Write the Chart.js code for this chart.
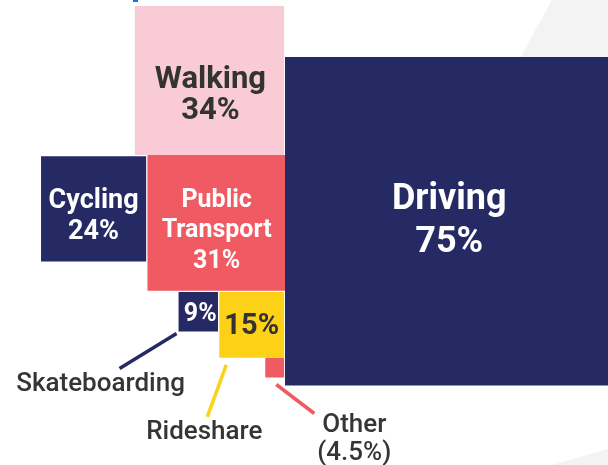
<!DOCTYPE html>
<html><head><meta charset="utf-8">
<script src="https://cdn.jsdelivr.net/npm/chart.js@4.4.1/dist/chart.umd.min.js"></script>
<style>html,body{margin:0;padding:0;background:#fff;overflow:hidden}canvas{display:block}</style>
</head><body>
<canvas id="c" width="608" height="465"></canvas>
<script>
// ---- data ----
const categories = ['Driving', 'Walking', 'Public Transport', 'Cycling', 'Rideshare', 'Skateboarding', 'Other'];
const values = [75, 34, 31, 24, 15, 9, 4.5];
const valueLabels = ['75%', '34%', '31%', '24%', '15%', '9%', '(4.5%)'];

// ---- styles ----
const NAVY = '#262a64', PINK = '#f9cbd6', RED = '#ef5a63', YELLOW = '#fdd117', DARK = '#333333';
const colors = [NAVY, PINK, RED, NAVY, YELLOW, NAVY, RED];

// ---- layout (square side = value, in % units) ----
const PX = 4.38;
const val = {};
categories.forEach((c, i) => val[c] = values[i]);
const GAP = 0.3;
const DRIVING_TOP = -22.4;
const boxes = {};
boxes['Driving'] = {x0: 0, x1: val['Driving'], y0: DRIVING_TOP, y1: DRIVING_TOP + val['Driving']};
boxes['Walking'] = {x0: -val['Walking'] - 0.3, x1: -0.2, y0: -val['Walking'], y1: 0};
boxes['Public Transport'] = {x0: -val['Public Transport'] - 0.4, x1: 0.2, y0: 0, y1: val['Public Transport']};
boxes['Cycling'] = {x0: -val['Public Transport'] - 0.4 - GAP - val['Cycling'], x1: -val['Public Transport'] - 0.4 - GAP, y0: GAP, y1: GAP + val['Cycling']};
const rsTop = val['Public Transport'] + GAP;
boxes['Rideshare'] = {x0: -val['Rideshare'], x1: -0.2, y0: rsTop, y1: rsTop + val['Rideshare']};
boxes['Skateboarding'] = {x0: -val['Rideshare'] - GAP - val['Skateboarding'], x1: -val['Rideshare'] - GAP, y0: rsTop, y1: rsTop + val['Skateboarding']};
boxes['Other'] = {x0: -val['Other'], x1: -0.2, y0: boxes['Rideshare'].y1, y1: boxes['Rideshare'].y1 + val['Other']};

const datasets = categories.map((c, i) => {
  const b = boxes[c];
  return {
    label: c,
    data: [{x: b.x0, y: b.y0}, {x: b.x1, y: b.y0}, {x: b.x1, y: b.y1}, {x: b.x0, y: b.y1}, {x: b.x0, y: b.y0}],
    showLine: true,
    fill: 'shape',
    backgroundColor: colors[i],
    borderColor: 'rgba(0,0,0,0)',
    borderWidth: 0,
    pointRadius: 0,
    pointHoverRadius: 0,
    tension: 0
  };
});

// inside label styles
const inside = {
  'Driving':          {size: 36, color: '#ffffff', gap: 43, dy: -3, dx: 0},
  'Walking':          {size: 31, color: DARK, gap: 31.5, dy: 12, dx: 1},
  'Public Transport': {size: 25, color: '#ffffff', gap: 30.5, dy: 5.5, dx: 0, split: true},
  'Cycling':          {size: 27, color: '#ffffff', gap: 31, dy: 5.5, dx: 0},
  'Rideshare':        {size: 29, color: DARK, gap: 0, dy: -1, dx: 0, valueOnly: true},
  'Skateboarding':    {size: 25, color: '#ffffff', gap: 0, dy: 0, dx: 2, valueOnly: true}
};
// external callouts (pixel offsets from box bottom-left)
const callouts = {
  'Skateboarding': {from: [-2, 2], to: [-59, 37], text: [[-78, 59]], color: NAVY},
  'Rideshare':     {from: [7, 7], to: [-12, 59], text: [[-15, 81]], color: YELLOW},
  'Other':         {from: [11, 7], to: [49, 36], text: [[89, 54], [89, 82]], color: RED}
};

const deco = {
  id: 'deco',
  beforeDraw(chart) {
    const ctx = chart.ctx;
    ctx.save();
    ctx.fillStyle = '#f3f3f3';
    ctx.beginPath();
    ctx.moveTo(552, 0); ctx.lineTo(608, 0); ctx.lineTo(608, 120); ctx.lineTo(486, 120); ctx.closePath();
    ctx.fill();
    ctx.beginPath();
    ctx.moveTo(608, 449); ctx.lineTo(608, 465); ctx.lineTo(552, 465); ctx.closePath();
    ctx.fill();
    ctx.fillStyle = '#1a73d9';
    ctx.fillRect(133, 0, 5, 2);
    ctx.restore();
  }
};

const labels = {
  id: 'labels',
  afterDatasetsDraw(chart) {
    const ctx = chart.ctx, xs = chart.scales.x, ys = chart.scales.y;
    ctx.save();
    ctx.textAlign = 'center';
    categories.forEach((c, i) => {
      const b = boxes[c];
      const px0 = xs.getPixelForValue(b.x0), px1 = xs.getPixelForValue(b.x1);
      const py0 = ys.getPixelForValue(b.y0), py1 = ys.getPixelForValue(b.y1);
      const s = inside[c];
      if (s) {
        let lines = s.valueOnly ? [valueLabels[i]] : (s.split ? c.split(' ') : [c]).concat([valueLabels[i]]);
        const cx = (px0 + px1) / 2 + s.dx, cy = (py0 + py1) / 2 + s.dy;
        ctx.font = 'bold ' + s.size + 'px Roboto, "Liberation Sans", sans-serif';
        ctx.fillStyle = s.color;
        ctx.textBaseline = 'alphabetic';
        const n = lines.length;
        lines.forEach((t, k) => {
          const lc = cy + (k - (n - 1) / 2) * s.gap;
          ctx.fillText(t, cx, lc + s.size * 0.355);
        });
      }
      const co = callouts[c];
      if (co) {
        const bx = Math.min(px0, px1), by = Math.max(py0, py1);
        ctx.strokeStyle = co.color;
        ctx.lineWidth = 3.5;
        ctx.lineCap = 'butt';
        ctx.beginPath();
        ctx.moveTo(bx + co.from[0], by + co.from[1]);
        ctx.lineTo(bx + co.to[0], by + co.to[1]);
        ctx.stroke();
        ctx.font = '500 26px Roboto, "Liberation Sans", sans-serif';
        ctx.fillStyle = '#353535';
        ctx.textBaseline = 'alphabetic';
        const texts = co.text.length > 1 ? [c, valueLabels[i]] : [c];
        texts.forEach((t, k) => ctx.fillText(t, bx + co.text[k][0], by + co.text[k][1]));
      }
    });
    ctx.restore();
  }
};

new Chart(document.getElementById('c'), {
  type: 'scatter',
  data: {datasets},
  options: {
    responsive: false,
    animation: false,
    devicePixelRatio: 1,
    layout: {padding: 0},
    plugins: {legend: {display: false}, tooltip: {enabled: false}},
    scales: {
      x: {type: 'linear', display: false, min: -285 / PX, max: 323 / PX},
      y: {type: 'linear', display: false, reverse: true, min: -155 / PX, max: 310 / PX}
    }
  },
  plugins: [deco, labels]
});
</script>
</body></html>
